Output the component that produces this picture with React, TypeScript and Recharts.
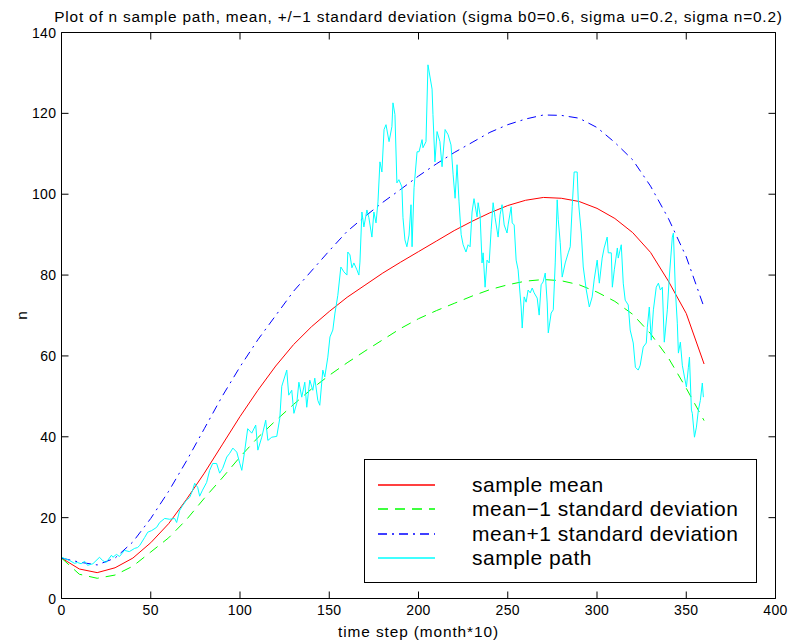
import React from 'react';
import { LineChart, Line, XAxis, YAxis, Legend } from 'recharts';

const TITLE = 'Plot of n sample path, mean, +/\u22121 standard deviation (sigma b0=0.6, sigma u=0.2, sigma n=0.2)';
const X_LABEL = 'time step (month*10)';
const Y_LABEL = 'n';

const xTicks = [0, 50, 100, 150, 200, 250, 300, 350, 400];
const yTicks = [0, 20, 40, 60, 80, 100, 120, 140];

const stepT = [0, 10, 20, 30, 40, 50, 60, 70, 80, 90, 100, 110, 120, 130, 140, 150, 160, 170, 180, 190, 200, 210, 220, 230, 240, 250, 260, 270, 280, 290, 300, 310, 320, 330, 340, 350, 360];

const meanN = [10, 7.3, 6.4, 7.6, 10, 13.8, 18.5, 24.5, 31, 38, 45, 51.5, 57.5, 62.8, 67.2, 71, 74.5, 77.5, 80.5, 83.2, 85.8, 88.4, 91, 93.3, 95.4, 97.2, 98.5, 99.2, 99, 98.2, 96.5, 94, 90.5, 85.6, 78.5, 70.5, 58];

const lowerN = [10, 6, 5, 5.8, 8, 11.5, 15, 19.5, 24.8, 29.8, 35, 39.8, 44, 48, 51.8, 55.2, 58.3, 61.2, 64, 66.8, 69.2, 71.2, 73, 74.8, 76.4, 77.6, 78.5, 78.9, 78.6, 77.6, 75.8, 73.5, 70.3, 65.5, 59.5, 52, 44];

const upperN = [10, 9, 8.3, 10, 14, 19.8, 26.5, 34, 42, 50, 57.3, 64, 70, 76, 81, 86, 90.8, 94.5, 98, 101.2, 104.5, 107.5, 110.3, 112.8, 115.3, 117.2, 118.6, 119.6, 119.5, 118.8, 116.5, 112.8, 108.5, 102, 94, 84.5, 72];

const pathT = [0, 4.5, 7.3, 9, 11, 13, 14.6, 17.6, 21.3, 23, 25, 28, 28.8, 30.8, 32.5, 35.3, 38, 41, 42.6, 43.8, 46.6, 48.3, 50.5, 53.3, 55, 57.8, 60.6, 63.4, 64.5, 66.2, 67.9, 70, 71.8, 73.5, 74.6, 76.3, 77.4, 79, 81.3, 83, 84.7, 86.9, 88.6, 90.3, 92.6, 94.2, 96, 98.2, 99.9, 101, 102.7, 104.3, 106.6, 108.8, 110, 112.2, 114.4, 115.6, 117.8, 120.6, 122.3, 123.4, 126.2, 127.3, 129, 130.2, 131.8, 133, 134.6, 136.3, 137.4, 139.1, 140.8, 141.9, 143.6, 144.7, 146.4, 147.5, 149.2, 150.4, 152, 153.2, 154.8, 156.5, 158.2, 159.9, 160.4, 161.6, 162.7, 163.8, 165.5, 166.6, 167.2, 168.3, 169.4, 171.1, 172.2, 173.9, 175, 176.2, 177.3, 178.4, 179.5, 180.7, 181.8, 183.5, 185.1, 185.7, 186.8, 187.9, 189, 190.7, 191.3, 192.4, 193.5, 194.7, 195.8, 196.4, 197.5, 199.2, 200.3, 202, 202.5, 204.2, 205.3, 207.6, 208.1, 209.2, 210.4, 212, 213.2, 214.9, 216.6, 218.2, 219.4, 220.5, 221.6, 222.7, 223.9, 225, 226.6, 227.8, 228.9, 230, 231.1, 232.8, 233.4, 234.5, 235.6, 236.2, 237.3, 238.4, 239.6, 240.7, 241.8, 242.9, 244.6, 245.7, 246.8, 248, 249.6, 250.2, 251.9, 252.5, 253.6, 254.7, 255.8, 257.5, 258.1, 259.2, 260.3, 261.4, 262.6, 263.7, 264.8, 266.5, 267.6, 268.7, 269.8, 271, 272.1, 272.7, 274.3, 275.5, 276.6, 277.7, 278.3, 279.4, 280.5, 282.2, 283.9, 285, 286.1, 287.2, 288.9, 289.5, 291.2, 292.3, 294, 295.7, 297.3, 298.4, 300.1, 301.3, 302.9, 304, 305.7, 306.3, 308, 308.6, 309.7, 311.4, 311.9, 313.6, 314.7, 315.8, 317.5, 318.6, 320.3, 321.5, 323.1, 324.2, 325.9, 327.6, 328.2, 329.3, 330.4, 331.6, 333.2, 334.4, 335.5, 336.6, 337.7, 339.4, 340.5, 342.2, 342.8, 343.9, 345, 345.6, 346.7, 347.8, 349, 350.1, 351.2, 351.8, 352.9, 353.4, 354.6, 355.7, 356.8, 357.9, 359, 359.6];

const pathN = [10.2, 9.4, 8.7, 8.9, 8.6, 9.2, 8.2, 8.6, 10.2, 9.4, 8.9, 10.7, 10.2, 10.9, 10.4, 11.9, 11.6, 12.4, 12.6, 13.1, 15.1, 16.4, 16.8, 17.6, 18.8, 19.8, 19.6, 19.8, 18.8, 21.8, 23, 24.3, 25, 26.8, 28.5, 27.5, 25.3, 26.8, 28.7, 31.7, 33.4, 33.4, 31, 32.2, 35, 35.9, 37.2, 36.2, 33.4, 31.7, 36.7, 42, 40.9, 42.9, 36.7, 39.9, 44.1, 39.1, 39.9, 40.1, 44.6, 52.5, 56.5, 50.3, 51.5, 45.8, 48.3, 53.5, 49.8, 53.5, 47.3, 54, 51.5, 54.5, 49, 47.8, 56.5, 54.8, 59.7, 64.7, 66.4, 70.6, 75, 82, 80.8, 80, 85.7, 85, 81.8, 83, 81.3, 80, 83.2, 95.6, 91.9, 96.1, 94.2, 89.4, 95.6, 92.9, 98.1, 108, 105.5, 116, 117.2, 113, 116.7, 122.6, 119.7, 102.8, 103.6, 101.8, 94.2, 88.7, 87, 89.9, 97.4, 87, 101.6, 110.5, 110.5, 113.5, 111.5, 113, 132, 126, 119.7, 108, 115.5, 113, 106.8, 116, 114.7, 112.2, 104.8, 99, 107.3, 98.1, 90, 87.5, 85.7, 87.5, 87, 95.6, 98.9, 94.4, 97.9, 94.9, 83, 85.5, 77, 83.7, 83, 91.2, 97.9, 94.2, 89.4, 94.9, 97.4, 92.4, 90.4, 92.4, 96.9, 92.9, 92.4, 83.7, 81.3, 72.1, 66.9, 74.6, 73.3, 76.3, 75.6, 76.8, 75.6, 74.3, 70.1, 77.6, 78.3, 80.5, 73.1, 65.7, 70.6, 71.4, 83, 98.6, 93.7, 88, 79.5, 83, 85.5, 87, 96.9, 105.5, 105.5, 98.6, 90.4, 82, 76.3, 72.1, 74.6, 78.8, 83.7, 78, 84.2, 86.7, 89.4, 85.5, 85.5, 77, 81.3, 86.7, 84.2, 87.5, 78, 73.8, 72.6, 66.4, 63.2, 57.2, 56.5, 57.7, 62.2, 63.2, 67.1, 72.1, 63.9, 71.4, 77, 78, 76.3, 77, 63.4, 71.4, 79.5, 89.4, 90.4, 76.3, 68.1, 60.7, 63.4, 57.7, 54.8, 52.3, 57.2, 59.7, 46.6, 45.8, 39.9, 42.4, 46.6, 49, 53.3, 49.8];

const seriesNames = ['sample mean', 'mean\u22121 standard deviation', 'mean+1 standard deviation', 'sample path'];
const seriesColors = ['#ff0000', '#00ff00', '#0000ff', '#00ffff'];
const seriesDash = [undefined, '10 7', '9 5 2 5', undefined];

const meanData = stepT.map((t, i) => ({ t, n: meanN[i] }));
const lowerData = stepT.map((t, i) => ({ t, n: lowerN[i] }));
const upperData = stepT.map((t, i) => ({ t, n: upperN[i] }));
const pathData = pathT.map((t, i) => ({ t, n: pathN[i] }));

const FONT = '"Liberation Sans", Arial, Helvetica, sans-serif';
const TICK = 7;

const BottomTick = (p: any) => (
  <g>
    <line x1={p.x} x2={p.x} y1={p.y} y2={p.y - TICK} stroke="#000" strokeWidth={1} />
    <text x={p.x} y={p.y + 16} textAnchor="middle" fontFamily={FONT} fontSize={14} letterSpacing={0.4} fill="#000">
      {p.payload.value}
    </text>
  </g>
);
const TopTick = (p: any) => (
  <line x1={p.x} x2={p.x} y1={p.y} y2={p.y + TICK} stroke="#000" strokeWidth={1} />
);
const LeftTick = (p: any) => (
  <g>
    <line x1={p.x} x2={p.x + TICK} y1={p.y} y2={p.y} stroke="#000" strokeWidth={1} />
    <text x={p.x - 5} y={p.y + 5} textAnchor="end" fontFamily={FONT} fontSize={14} letterSpacing={0.4} fill="#000">
      {p.payload.value}
    </text>
  </g>
);
const RightTick = (p: any) => (
  <line x1={p.x} x2={p.x - TICK} y1={p.y} y2={p.y} stroke="#000" strokeWidth={1} />
);

const YLabel = (p: any) => {
  const vb = p.viewBox || { x: 0, y: 0, width: 0, height: 0 };
  const x = vb.x + 21;
  const y = vb.y + vb.height / 2;
  return (
    <text x={x} y={y} transform={`rotate(-90 ${x} ${y})`} textAnchor="middle" dominantBaseline="central" fontFamily={FONT} fontSize={15.4} fill="#000">
      {Y_LABEL}
    </text>
  );
};

const renderLegend = () => {
  const rowY = [26, 50, 75, 99];
  return (
    <svg width={393} height={124} style={{ display: 'block' }}>
      <rect x={0.5} y={0.5} width={392} height={123} fill="#fff" stroke="#000" strokeWidth={1} />
      {seriesNames.map((name, i) => (
        <g key={name}>
          <line x1={14} x2={71} y1={rowY[i]} y2={rowY[i]} stroke={seriesColors[i]} strokeWidth={1.3} strokeDasharray={seriesDash[i]} />
          <text x={108} y={rowY[i] + 7} fontFamily={FONT} fontSize={21} letterSpacing={0.5} fill="#000">
            {name}
          </text>
        </g>
      ))}
    </svg>
  );
};

export default function App() {
  return (
    <div style={{ position: 'absolute', left: 0, top: 0, width: 788, height: 642, background: '#fff' }}>
      <LineChart width={788} height={642} margin={{ top: 31.5, right: 11.5, bottom: 0, left: 0 }}>
        <XAxis
          dataKey="t"
          type="number"
          domain={[0, 400]}
          ticks={xTicks}
          interval={0}
          height={43.5}
          tickSize={0}
          tickMargin={0}
          axisLine={{ stroke: '#000', strokeWidth: 1 }}
          tickLine={false}
          tick={<BottomTick />}
          label={{ value: X_LABEL, position: 'insideBottom', offset: 5, fontFamily: FONT, fontSize: 15.4, letterSpacing: 0.9, fill: '#000' }}
        />
        <XAxis
          xAxisId="top"
          orientation="top"
          dataKey="t"
          type="number"
          domain={[0, 400]}
          ticks={xTicks}
          interval={0}
          height={1}
          tickSize={0}
          tickMargin={0}
          axisLine={{ stroke: '#000', strokeWidth: 1 }}
          tickLine={false}
          tick={<TopTick />}
          label={{ value: TITLE, position: 'top', offset: 10, fontFamily: FONT, fontSize: 15.4, letterSpacing: 0.8, fill: '#000' }}
        />
        <YAxis
          type="number"
          domain={[0, 140]}
          ticks={yTicks}
          interval={0}
          width={61.5}
          tickSize={0}
          tickMargin={0}
          axisLine={{ stroke: '#000', strokeWidth: 1 }}
          tickLine={false}
          tick={<LeftTick />}
          label={<YLabel />}
        />
        <YAxis
          yAxisId="right"
          orientation="right"
          type="number"
          domain={[0, 140]}
          ticks={yTicks}
          interval={0}
          width={1}
          tickSize={0}
          tickMargin={0}
          axisLine={{ stroke: '#000', strokeWidth: 1 }}
          tickLine={false}
          tick={<RightTick />}
        />
        <Legend
          layout="vertical"
          align="center"
          verticalAlign="middle"
          content={renderLegend}
          wrapperStyle={{ left: 364, top: 459, width: 393, height: 124 }}
        />
        {[meanData, lowerData, upperData, pathData].map((d, i) => (
          <Line
            key={seriesNames[i]}
            data={d}
            dataKey="n"
            name={seriesNames[i]}
            stroke={seriesColors[i]}
            strokeWidth={1}
            strokeDasharray={seriesDash[i]}
            dot={false}
            activeDot={false}
            isAnimationActive={false}
            type="linear"
          />
        ))}
        <Line data={meanData} dataKey="n" xAxisId="top" yAxisId="right" name="frame" legendType="none" stroke="none" strokeWidth={0} dot={false} activeDot={false} isAnimationActive={false} type="linear" />
      </LineChart>
    </div>
  );
}
